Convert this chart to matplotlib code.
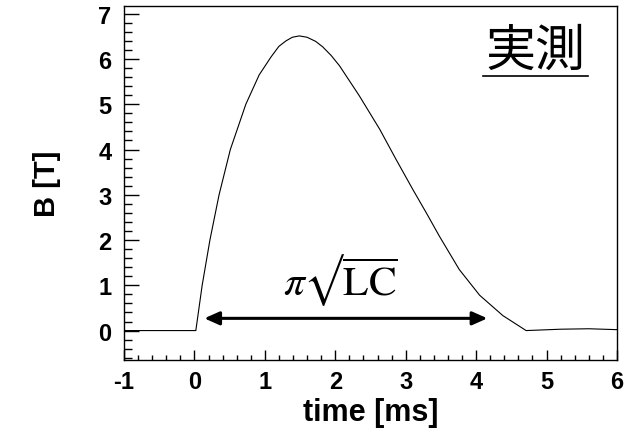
import numpy as np
import matplotlib.pyplot as plt
from matplotlib.ticker import MultipleLocator

plt.rcParams['font.family'] = ['Liberation Sans', 'DejaVu Sans']
plt.rcParams['mathtext.fontset'] = 'stix'
plt.rcParams['axes.unicode_minus'] = False

# Datos
t = [-1.0, 0.02, 0.11, 0.22, 0.35, 0.51, 0.73, 0.92, 1.09, 1.20, 1.30, 1.39,
     1.49, 1.60, 1.72, 1.82, 1.94, 2.06, 2.34, 2.63, 2.86, 3.10, 3.30, 3.48,
     3.76, 4.05, 4.38, 4.71, 5.2, 5.6, 6.0]
B = [0.0, 0.0, 1.0, 2.0, 3.0, 4.0, 5.0, 5.65, 6.05, 6.28, 6.40, 6.48,
     6.51, 6.48, 6.39, 6.27, 6.08, 5.85, 5.19, 4.45, 3.79, 3.12, 2.58, 2.08,
     1.35, 0.78, 0.33, 0.0, 0.03, 0.04, 0.02]

arrow_start = 0.14
arrow_end = 4.16
arrow_y = 0.27

fig = plt.figure(figsize=(6.31, 4.39), dpi=100)
ax = fig.add_axes([0.1965, 0.1777, 0.7813, 0.8063])

ax.plot(t, B, color="black", linewidth=0.8)

# Flecha doble
ax.annotate("", xy=(arrow_start, arrow_y), xytext=(arrow_end, arrow_y),
            arrowprops=dict(arrowstyle="<|-|>,head_length=0.9,head_width=0.4",
                            color="black", lw=2.2, shrinkA=0, shrinkB=0))
ax.text(2.07, 1.13, "$\\pi\u221a\\overline{\\mathrm{LC}}$", fontsize=30,
        ha="center", va="center")

# Texto 実測 subrayado
ax.text(0.834, 0.873, "実測", transform=ax.transAxes, fontsize=36,
        family=['Noto Sans CJK JP', 'DejaVu Sans'], ha="center", va="center")
ax.plot([0.728, 0.941], [0.802, 0.802], transform=ax.transAxes,
        color="black", linewidth=1.2)

ax.set_xlim(-1, 6)
ax.set_ylim(-0.65, 7.17)
ax.xaxis.set_major_locator(MultipleLocator(1))
ax.xaxis.set_minor_locator(MultipleLocator(0.2))
ax.yaxis.set_major_locator(MultipleLocator(1))
ax.yaxis.set_minor_locator(MultipleLocator(0.2))
ax.tick_params(axis="x", which="major", direction="in", length=7, width=1,
               labelsize=17, pad=7)
ax.tick_params(axis="x", which="minor", direction="in", length=3.5, width=1)
ax.tick_params(axis="y", which="major", direction="in", length=11, width=1,
               labelsize=17, pad=9)
ax.tick_params(axis="y", which="minor", direction="in", length=5.5, width=1)
for lab in ax.get_xticklabels() + ax.get_yticklabels():
    lab.set_fontweight("bold")
for s in ax.spines.values():
    s.set_linewidth(1)

ax.set_xlabel("time [ms]", fontsize=22, fontweight="bold", labelpad=3)
ax.set_ylabel("B [T]", fontsize=21, fontweight="bold", labelpad=27)

fig.savefig("out.png", dpi=100)
